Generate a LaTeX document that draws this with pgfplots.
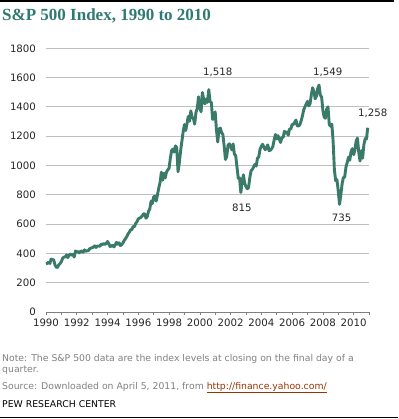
\documentclass[border=0pt]{standalone}
\usepackage{pgfplots}
\pgfplotsset{compat=1.18}
\usepackage{fontspec}
\setmainfont{DejaVu Sans}
\newfontfamily\titlefont{Liberation Serif}
\definecolor{titlec}{RGB}{47,122,112}
\definecolor{linec}{RGB}{58,122,104}
\definecolor{gridc}{RGB}{191,191,191}
\definecolor{notec}{RGB}{128,128,128}
\definecolor{urlc}{RGB}{153,51,0}
\begin{document}
\begin{tikzpicture}[x=1pt,y=1pt]
\useasboundingbox (0,0) rectangle (398,-419);
\draw[black, line width=1.2pt] (0,-1) -- (394,-1);
\node[anchor=base west, inner sep=0, text=titlec, font=\titlefont\bfseries\fontsize{17}{20}\selectfont] at (2,-20.5) {S\&P 500 Index, 1990 to 2010};
\begin{axis}[
  at={(46pt,-312pt)}, anchor=south west,
  scale only axis, width=323pt, height=263.7pt,
  xmin=0, xmax=252, ymin=0, ymax=1800,
  axis x line*=bottom, axis y line*=left,
  x axis line style={draw=gray, -},
  y axis line style={draw=none},
  xtick={0,24,...,240},
  xticklabels={1990,1992,1994,1996,1998,2000,2002,2004,2006,2008,2010},
  minor xtick={12,36,...,252},
  ytick={0,200,...,1800},
  ymajorgrids, grid style={gridc, line width=0.8pt},
  tick align=outside,
  xtick style={gray, line width=0.6pt},
  major tick length=3pt, minor tick length=3pt,
  ytick style={draw=none},
  tick label style={font=\fontsize{10.2}{12}\selectfont, text=black!85},
  /pgf/number format/assume math mode=true,
  /pgf/number format/1000 sep={},
  yticklabel style={xshift=-3.5pt},
  clip=false,
]
\addplot[linec, line width=2.9pt, line join=round] table[row sep=\\] {
x y\\
0 329.08\\ 1 331.89\\ 2 339.94\\ 3 330.80\\ 4 361.23\\ 5 358.02\\ 6 356.15\\ 7 322.56\\ 8 306.05\\ 9 304.00\\ 10 322.22\\ 11 330.22\\
12 343.93\\ 13 367.07\\ 14 375.22\\ 15 375.34\\ 16 389.83\\ 17 371.16\\ 18 387.81\\ 19 395.43\\ 20 387.86\\ 21 392.46\\ 22 375.22\\ 23 417.09\\
24 408.79\\ 25 412.70\\ 26 403.69\\ 27 414.95\\ 28 415.35\\ 29 408.14\\ 30 424.21\\ 31 414.03\\ 32 417.80\\ 33 418.68\\ 34 431.35\\ 35 435.71\\
36 438.78\\ 37 443.38\\ 38 451.67\\ 39 440.19\\ 40 450.19\\ 41 450.53\\ 42 448.13\\ 43 463.56\\ 44 458.93\\ 45 467.83\\ 46 461.79\\ 47 466.45\\
48 481.61\\ 49 467.14\\ 50 445.77\\ 51 450.91\\ 52 456.50\\ 53 444.27\\ 54 458.26\\ 55 475.49\\ 56 462.69\\ 57 472.35\\ 58 453.69\\ 59 459.27\\
60 470.42\\ 61 487.39\\ 62 500.71\\ 63 514.71\\ 64 533.40\\ 65 544.75\\ 66 562.06\\ 67 561.88\\ 68 584.41\\ 69 581.50\\ 70 605.37\\ 71 615.93\\
72 636.02\\ 73 640.43\\ 74 645.50\\ 75 654.17\\ 76 669.12\\ 77 670.63\\ 78 639.95\\ 79 651.99\\ 80 687.31\\ 81 705.27\\ 82 757.02\\ 83 740.74\\
84 786.16\\ 85 790.82\\ 86 757.12\\ 87 801.34\\ 88 848.28\\ 89 885.14\\ 90 954.29\\ 91 899.47\\ 92 947.28\\ 93 914.62\\ 94 955.40\\ 95 970.43\\
96 980.28\\ 97 1049.34\\ 98 1101.75\\ 99 1111.75\\ 100 1090.82\\ 101 1133.84\\ 102 1120.67\\ 103 957.28\\ 104 1017.01\\ 105 1098.67\\ 106 1163.63\\ 107 1229.23\\
108 1279.64\\ 109 1238.33\\ 110 1286.37\\ 111 1335.18\\ 112 1301.84\\ 113 1372.71\\ 114 1328.72\\ 115 1320.41\\ 116 1282.71\\ 117 1362.93\\ 118 1388.91\\ 119 1469.25\\
120 1394.46\\ 121 1366.42\\ 122 1498.58\\ 123 1452.43\\ 124 1420.60\\ 125 1454.60\\ 126 1430.83\\ 127 1517.68\\ 128 1436.51\\ 129 1429.40\\ 130 1314.95\\ 131 1320.28\\
132 1366.01\\ 133 1239.94\\ 134 1160.33\\ 135 1249.46\\ 136 1255.82\\ 137 1224.42\\ 138 1211.23\\ 139 1133.58\\ 140 1040.94\\ 141 1059.78\\ 142 1139.45\\ 143 1148.08\\
144 1130.20\\ 145 1106.73\\ 146 1147.39\\ 147 1076.92\\ 148 1067.14\\ 149 989.82\\ 150 911.62\\ 151 916.07\\ 152 815.28\\ 153 885.76\\ 154 936.31\\ 155 879.82\\
156 855.70\\ 157 841.15\\ 158 848.18\\ 159 916.92\\ 160 963.59\\ 161 974.50\\ 162 990.31\\ 163 1008.01\\ 164 995.97\\ 165 1050.71\\ 166 1058.20\\ 167 1111.92\\
168 1131.13\\ 169 1144.94\\ 170 1126.21\\ 171 1107.30\\ 172 1120.68\\ 173 1140.84\\ 174 1101.72\\ 175 1104.24\\ 176 1114.58\\ 177 1130.20\\ 178 1173.82\\ 179 1211.92\\
180 1181.27\\ 181 1203.60\\ 182 1180.59\\ 183 1156.85\\ 184 1191.50\\ 185 1191.33\\ 186 1234.18\\ 187 1220.33\\ 188 1228.81\\ 189 1207.01\\ 190 1249.48\\ 191 1248.29\\
192 1280.08\\ 193 1280.66\\ 194 1294.83\\ 195 1310.61\\ 196 1270.09\\ 197 1270.20\\ 198 1276.66\\ 199 1303.82\\ 200 1335.85\\ 201 1377.94\\ 202 1400.63\\ 203 1418.30\\
204 1438.24\\ 205 1406.82\\ 206 1420.86\\ 207 1482.37\\ 208 1530.62\\ 209 1503.35\\ 210 1455.27\\ 211 1473.99\\ 212 1526.75\\ 213 1549.38\\ 214 1481.14\\ 215 1468.36\\
216 1378.55\\ 217 1330.63\\ 218 1322.70\\ 219 1385.59\\ 220 1400.38\\ 221 1280.00\\ 222 1267.38\\ 223 1282.83\\ 224 1166.36\\ 225 968.75\\ 226 896.24\\ 227 903.25\\
228 825.88\\ 229 735.09\\ 230 797.87\\ 231 872.81\\ 232 919.14\\ 233 919.32\\ 234 987.48\\ 235 1020.62\\ 236 1057.08\\ 237 1036.19\\ 238 1095.63\\ 239 1115.10\\
240 1073.87\\ 241 1104.49\\ 242 1169.43\\ 243 1186.69\\ 244 1089.41\\ 245 1030.71\\ 246 1101.60\\ 247 1049.33\\ 248 1141.20\\ 249 1183.26\\ 250 1180.55\\ 251 1257.64\\
};
\node[font=\fontsize{10.2}{12}\selectfont, text=black!85] at (axis cs:134,1638) {1,518};
\node[font=\fontsize{10.2}{12}\selectfont, text=black!85] at (axis cs:219.8,1638) {1,549};
\node[font=\fontsize{10.2}{12}\selectfont, text=black!85] at (axis cs:254.9,1358) {1,258};
\node[font=\fontsize{10.2}{12}\selectfont, text=black!85] at (axis cs:152.9,710) {815};
\node[font=\fontsize{10.2}{12}\selectfont, text=black!85] at (axis cs:230.7,644) {735};
\end{axis}
\node[anchor=base west, inner sep=0, font=\fontsize{9.3}{11}\selectfont, text=notec] at (2,-361) {Note: The S\&P 500 data are the index levels at closing on the final day of a};
\node[anchor=base west, inner sep=0, font=\fontsize{9.3}{11}\selectfont, text=notec] at (2,-372.5) {quarter.};
\node[anchor=base west, inner sep=0, font=\fontsize{9.3}{11}\selectfont, text=notec] at (2,-389) {Source: Downloaded on April 5, 2011, from \textcolor{urlc}{\underline{http://finance.yahoo.com/}}};
\node[anchor=base west, inner sep=0, font=\fontsize{9.3}{11}\selectfont, text=black] at (2,-407.5) {PEW RESEARCH CENTER};
\draw[black, line width=1.2pt] (0,-417.5) -- (398,-417.5);
\end{tikzpicture}
\end{document}
